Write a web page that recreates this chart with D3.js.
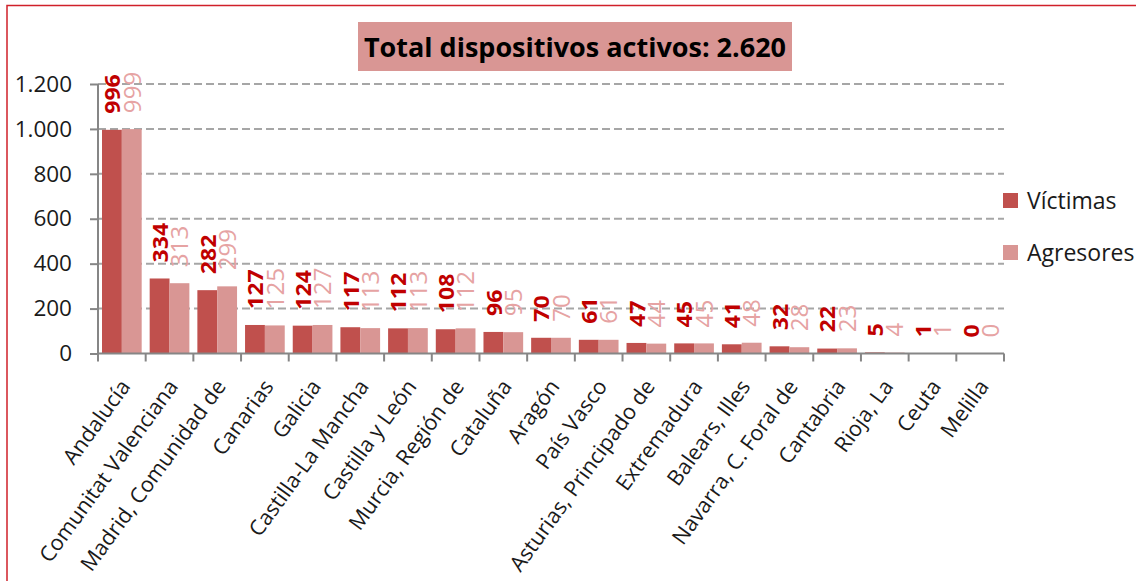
<!DOCTYPE html>
<html>
<head>
<meta charset="utf-8">
<script src="https://cdn.jsdelivr.net/npm/d3@7"></script>
<style>
  html, body { margin: 0; padding: 0; background: #fff; }
  svg { display: block; font-family: "Open Sans", "Noto Sans", sans-serif; }
</style>
</head>
<body>
<div id="chart"></div>
<script>
// Datos por comunidad autónoma
const categories = [
    'Andalucía', 'Comunitat Valenciana', 'Madrid, Comunidad de', 'Canarias', 'Galicia',
    'Castilla-La Mancha', 'Castilla y León', 'Murcia, Región de', 'Cataluña', 'Aragón',
    'País Vasco', 'Asturias, Principado de', 'Extremadura', 'Balears, Illes',
    'Navarra, C. Foral de', 'Cantabria', 'Rioja, La', 'Ceuta', 'Melilla'
];
const victimas = [996, 334, 282, 127, 124, 117, 112, 108, 96, 70, 61, 47, 45, 41, 32, 22, 5, 1, 0];
const agresores = [999, 313, 299, 125, 127, 113, 113, 112, 95, 70, 61, 44, 45, 48, 28, 23, 4, 1, 0];
const seriesNames = ['Víctimas', 'Agresores'];
const yTicks = [0, 200, 400, 600, 800, 1000, 1200];
const titleText = 'Total dispositivos activos: 2.620';

const W = 1136, H = 581;
const colors = { 'Víctimas': '#C0504D', 'Agresores': '#D99694' };
const labelColors = { 'Víctimas': '#C00000', 'Agresores': '#E6A3A3' };

const svg = d3.select('#chart').append('svg')
    .attr('width', W)
    .attr('height', H);

// marco exterior
svg.append('rect')
    .attr('x', 7).attr('y', 5.5)
    .attr('width', W + 20).attr('height', H + 20)
    .attr('fill', 'none')
    .attr('stroke', '#D0202A')
    .attr('stroke-width', 1.5);

const plot = { left: 98, right: 1004, top: 84, bottom: 353.5 };

const x = d3.scaleBand()
    .domain(categories)
    .range([plot.left, plot.right])
    .padding(0);

const xs = d3.scaleBand()
    .domain(seriesNames)
    .range([4, x.bandwidth() - 4]);

const y = d3.scaleLinear()
    .domain([0, 1200])
    .range([plot.bottom, plot.top]);

// rejilla
svg.append('g')
    .selectAll('line')
    .data(yTicks.filter(t => t > 0))
    .join('line')
    .attr('x1', plot.left).attr('x2', plot.right)
    .attr('y1', d => y(d)).attr('y2', d => y(d))
    .attr('stroke', '#A6A6A6')
    .attr('stroke-width', 2)
    .attr('stroke-dasharray', '8,4');

// barras
const rows = categories.map((c, i) => ({ cat: c, values: [
    { name: 'Víctimas', value: victimas[i] },
    { name: 'Agresores', value: agresores[i] }
] }));

const groups = svg.append('g').selectAll('g')
    .data(rows)
    .join('g')
    .attr('transform', d => `translate(${x(d.cat)},0)`);

groups.selectAll('rect')
    .data(d => d.values)
    .join('rect')
    .attr('x', d => xs(d.name))
    .attr('width', xs.bandwidth())
    .attr('y', d => y(d.value))
    .attr('height', d => y(0) - y(d.value))
    .attr('fill', d => colors[d.name]);

// etiquetas de valor, giradas
groups.selectAll('text')
    .data(d => d.values)
    .join('text')
    .attr('transform', d => `translate(${xs(d.name) + xs.bandwidth() / 2},${y(d.value) - 16}) rotate(-90) scale(1.05,1)`)
    .attr('dominant-baseline', 'central')
    .attr('font-size', d => d.name === 'Víctimas' ? 22 : 23)
    .attr('font-weight', d => d.name === 'Víctimas' ? 'bold' : 'normal')
    .attr('fill', d => labelColors[d.name])
    .text(d => d.value);

// ejes
const yAxis = d3.axisLeft(y)
    .tickValues(yTicks)
    .tickSize(8)
    .tickPadding(18)
    .tickFormat(d => d3.format(',')(d).replace(/,/g, '.'));

const gy = svg.append('g')
    .attr('transform', `translate(${plot.left},0)`)
    .call(yAxis);
gy.select('.domain').attr('stroke', '#868686').attr('stroke-width', 2)
    .attr('d', `M0,${plot.top}V${plot.bottom}`);
gy.selectAll('.tick line').attr('stroke', '#868686').attr('stroke-width', 2);
gy.selectAll('.tick text')
    .attr('font-size', 22.5)
    .attr('font-family', '"Open Sans", sans-serif')
    .attr('fill', '#1a1a1a');

const gx = svg.append('g').attr('transform', `translate(0,${plot.bottom})`);
gx.append('line')
    .attr('x1', plot.left).attr('x2', plot.right)
    .attr('stroke', '#868686').attr('stroke-width', 2);
gx.selectAll('line.tick')
    .data(categories.map(c => x(c)).concat([plot.right]))
    .join('line')
    .attr('class', 'tick')
    .attr('x1', d => d).attr('x2', d => d)
    .attr('y1', 0).attr('y2', 8)
    .attr('stroke', '#868686').attr('stroke-width', 2);

gx.selectAll('text')
    .data(categories)
    .join('text')
    .attr('transform', d => `translate(${x(d) + x.bandwidth() / 2 - 3},${24}) rotate(-54)`)
    .attr('text-anchor', 'end')
    .attr('dy', '0.72em')
    .attr('font-size', 21.5)
    .attr('fill', '#1a1a1a')
    .text(d => d);

// título
svg.append('rect')
    .attr('x', 358).attr('y', 22)
    .attr('width', 434).attr('height', 49)
    .attr('fill', '#D99694');
svg.append('text')
    .attr('x', 575).attr('y', 57)
    .attr('text-anchor', 'middle')
    .attr('font-size', 27)
    .attr('font-weight', 'bold')
    .attr('fill', '#000')
    .text(titleText);

// leyenda
const legend = svg.append('g')
    .selectAll('g')
    .data(seriesNames)
    .join('g')
    .attr('transform', (d, i) => `translate(1003,${193 + i * 52})`);
legend.append('rect')
    .attr('width', 15).attr('height', 15)
    .attr('fill', d => colors[d]);
legend.append('text')
    .attr('x', 24).attr('y', 16)
    .attr('font-size', 23)
    .attr('fill', '#1a1a1a')
    .text(d => d);
</script>
</body>
</html>
